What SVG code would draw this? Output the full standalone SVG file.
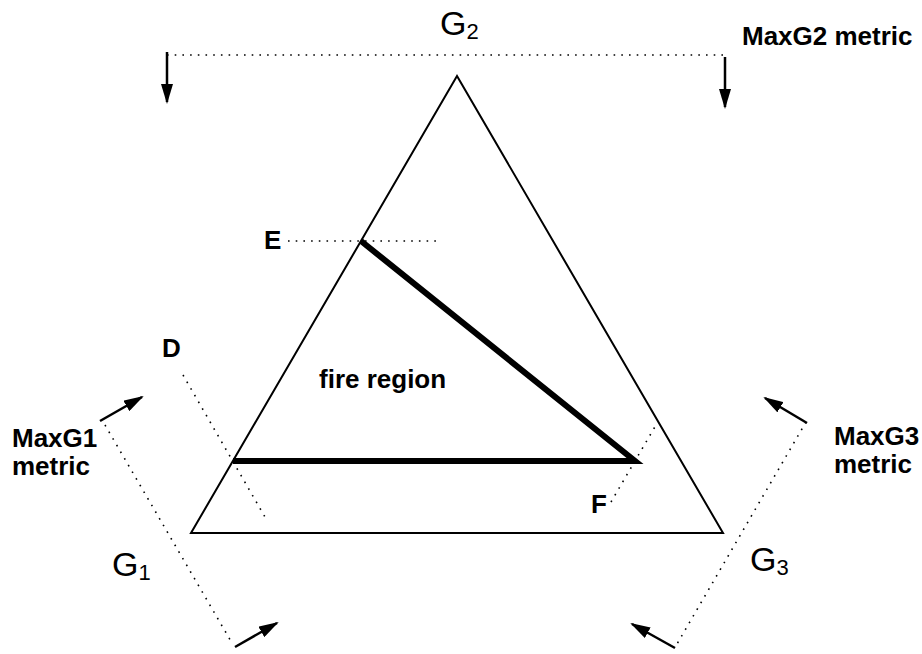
<svg xmlns="http://www.w3.org/2000/svg" width="922" height="654" viewBox="0 0 922 654">
<style>
.lbl{font-family:"Liberation Sans",Arial,sans-serif;font-weight:bold;font-size:26px;fill:#000}
.g{font-family:"Liberation Sans",Arial,sans-serif;font-size:34px;fill:#000}
.gs{font-family:"Liberation Sans",Arial,sans-serif;font-size:22px;fill:#000}
.dot{stroke:#000;stroke-width:1.6;stroke-dasharray:1.6 6.1;fill:none}
.arr{stroke:#000;stroke-width:2.5;fill:none;marker-end:url(#ah)}
</style>
<defs>
<marker id="ah" markerUnits="userSpaceOnUse" markerWidth="20" markerHeight="12" refX="18" refY="6" orient="auto">
<path d="M0,0 L20,6 L0,12 z" fill="#000"/>
</marker>
</defs>
<rect width="922" height="654" fill="#fff"/>
<g id="triangle">
<polygon points="457,76 191,533 723,533" fill="none" stroke="#000" stroke-width="2"/>
</g>
<g id="fire-region">
<polyline points="361,241 635,461 233,461" fill="none" stroke="#000" stroke-width="6"/>
<text class="lbl" x="319" y="388">fire region</text>
</g>
<g id="G2">
<text class="g" x="440" y="35">G<tspan class="gs" dy="4">2</tspan></text>
<text class="lbl" x="742" y="45">MaxG2 metric</text>
</g>
<g id="G1">
<text class="g" x="112" y="576">G<tspan class="gs" dy="4">1</tspan></text>
<text class="lbl" x="12" y="447">MaxG1</text>
<text class="lbl" x="12" y="475">metric</text>
</g>
<g id="G3">
<text class="g" x="750" y="571">G<tspan class="gs" dy="4">3</tspan></text>
<text class="lbl" x="834" y="445">MaxG3</text>
<text class="lbl" x="834" y="473">metric</text>
</g>
<g id="D"><text class="lbl" x="162" y="357">D</text></g>
<g id="E"><text class="lbl" x="264" y="249">E</text></g>
<g id="F"><text class="lbl" x="591" y="513">F</text></g>
<g id="connectors">
<line class="dot" x1="167" y1="55" x2="725" y2="55"/>
<line class="arr" x1="167" y1="52" x2="167" y2="102"/>
<line class="arr" x1="725" y1="57" x2="725" y2="107"/>
<line class="dot" x1="105" y1="425" x2="232" y2="643"/>
<line class="arr" x1="100" y1="421" x2="142" y2="397"/>
<line class="arr" x1="235" y1="647" x2="277" y2="623"/>
<line class="dot" x1="806" y1="422" x2="677" y2="644"/>
<line class="arr" x1="807" y1="423" x2="765" y2="398"/>
<line class="arr" x1="675" y1="648" x2="632" y2="624"/>
<line class="dot" x1="288" y1="241" x2="442" y2="241"/>
<line class="dot" x1="183" y1="375" x2="265" y2="517"/>
<line class="dot" x1="611" y1="502" x2="656" y2="425"/>
</g>
</svg>
